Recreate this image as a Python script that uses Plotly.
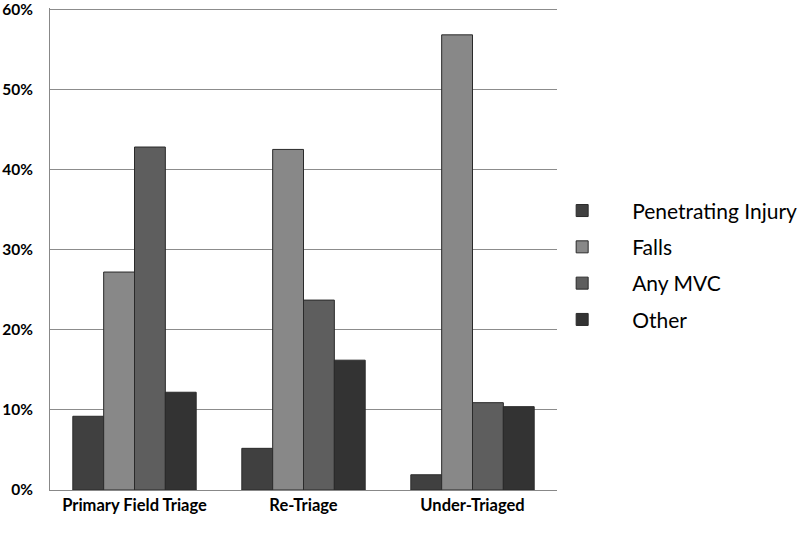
import plotly.graph_objects as go

categories = ["Primary Field Triage", "Re-Triage", "Under-Triaged"]
series_names = ["Penetrating Injury", "Falls", "Any MVC", "Other"]
penetrating = [9.2, 5.2, 1.9]
falls = [27.2, 42.5, 56.8]
any_mvc = [42.8, 23.7, 10.9]
other = [12.2, 16.2, 10.4]
tick_vals = [0, 10, 20, 30, 40, 50, 60]
tick_text = ["0%", "10%", "20%", "30%", "40%", "50%", "60%"]

values = [penetrating, falls, any_mvc, other]
colors = ["#404040", "#888888", "#5e5e5e", "#333333"]

fig = go.Figure()
for i, (name, vals, col) in enumerate(zip(series_names, values, colors)):
    fig.add_trace(go.Bar(
        x=categories, y=vals, name=name, legendgroup=f"g{i}",
        marker=dict(color=col, line=dict(color="#2a2a2a", width=1)),
    ))

fig.update_layout(
    width=800, height=534,
    margin=dict(l=50, r=243, t=8, b=44, autoexpand=False),
    paper_bgcolor="white", plot_bgcolor="white",
    barmode="group", bargap=0.27, bargroupgap=0,
    font=dict(family="Lato, Open Sans, sans-serif", color="black"),
    legend=dict(
        x=0.951, y=0.466, xanchor="left", yanchor="middle",
        font=dict(size=21, color="black"), bgcolor="rgba(0,0,0,0)",
        tracegroupgap=6, itemwidth=90,
    ),
    showlegend=True,
)
fig.update_xaxes(
    showline=True, linecolor="#888888", linewidth=1, automargin=False,
    tickfont=dict(size=16.5, weight="bold"), ticks="",
)
fig.update_yaxes(
    range=[0, 60.15], tickvals=tick_vals, ticktext=tick_text,
    showgrid=True, gridcolor="#8c8c8c", gridwidth=1,
    showline=True, linecolor="#888888", linewidth=1, automargin=False,
    tickfont=dict(size=15.5, weight="bold"), ticks="", ticklabelstandoff=13,
    ticklabeloverflow="allow", zeroline=False,
)
fig.write_html("out.html", post_script="document.body.style.margin='0';",
               config={"displayModeBar": False})
